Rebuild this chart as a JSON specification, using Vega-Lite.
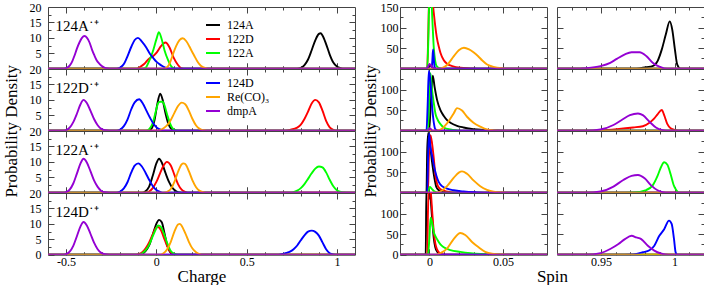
{
  "$schema": "https://vega.github.io/schema/vega-lite/v6.json",
  "padding": {"left": 1, "top": 0, "right": 2, "bottom": 0},
  "columns": 4,
  "spacing": {"row": 0, "column": 10},
  "bounds": "flush",
  "align": "each",
  "resolve": {"scale": {"color": "independent"}},
  "datasets": {
    "charge": [
      {"panel":1,"sp":"124A","x":-0.6,"y":0},{"panel":1,"sp":"124A","x":0.78,"y":0},{"panel":1,"sp":"124A","x":0.8,"y":0.3},{"panel":1,"sp":"124A","x":0.82,"y":1.2},{"panel":1,"sp":"124A","x":0.84,"y":3.0},{"panel":1,"sp":"124A","x":0.86,"y":6.0},{"panel":1,"sp":"124A","x":0.88,"y":9.2},{"panel":1,"sp":"124A","x":0.9,"y":11.3},{"panel":1,"sp":"124A","x":0.91,"y":11.5},{"panel":1,"sp":"124A","x":0.92,"y":10.8},{"panel":1,"sp":"124A","x":0.94,"y":8.0},{"panel":1,"sp":"124A","x":0.96,"y":4.6},{"panel":1,"sp":"124A","x":0.98,"y":2.0},{"panel":1,"sp":"124A","x":1.0,"y":0.7},{"panel":1,"sp":"124A","x":1.02,"y":0.2},{"panel":1,"sp":"124A","x":1.04,"y":0},{"panel":1,"sp":"124A","x":1.1,"y":0},
      {"panel":1,"sp":"122D","x":-0.6,"y":0},{"panel":1,"sp":"122D","x":-0.11,"y":0},{"panel":1,"sp":"122D","x":-0.093,"y":0.5},{"panel":1,"sp":"122D","x":-0.066,"y":1.6},{"panel":1,"sp":"122D","x":-0.042,"y":3.2},{"panel":1,"sp":"122D","x":-0.02,"y":4.0},{"panel":1,"sp":"122D","x":0.0025,"y":5.3},{"panel":1,"sp":"122D","x":0.0265,"y":7.4},{"panel":1,"sp":"122D","x":0.05,"y":8.5},{"panel":1,"sp":"122D","x":0.073,"y":6.9},{"panel":1,"sp":"122D","x":0.095,"y":3.7},{"panel":1,"sp":"122D","x":0.119,"y":1.3},{"panel":1,"sp":"122D","x":0.137,"y":0.2},{"panel":1,"sp":"122D","x":0.16,"y":0},{"panel":1,"sp":"122D","x":1.1,"y":0},
      {"panel":1,"sp":"122A","x":-0.6,"y":0},{"panel":1,"sp":"122A","x":-0.08,"y":0},{"panel":1,"sp":"122A","x":-0.06,"y":0.3},{"panel":1,"sp":"122A","x":-0.04,"y":2.5},{"panel":1,"sp":"122A","x":-0.02,"y":5.5},{"panel":1,"sp":"122A","x":0,"y":9.5},{"panel":1,"sp":"122A","x":0.014,"y":11.8},{"panel":1,"sp":"122A","x":0.03,"y":9.5},{"panel":1,"sp":"122A","x":0.045,"y":6.0},{"panel":1,"sp":"122A","x":0.065,"y":2.8},{"panel":1,"sp":"122A","x":0.08,"y":1.0},{"panel":1,"sp":"122A","x":0.095,"y":0.2},{"panel":1,"sp":"122A","x":0.11,"y":0},{"panel":1,"sp":"122A","x":1.1,"y":0},
      {"panel":1,"sp":"124D","x":-0.6,"y":0},{"panel":1,"sp":"124D","x":-0.22,"y":0},{"panel":1,"sp":"124D","x":-0.2,"y":0.4},{"panel":1,"sp":"124D","x":-0.18,"y":1.5},{"panel":1,"sp":"124D","x":-0.166,"y":3.2},{"panel":1,"sp":"124D","x":-0.138,"y":7.2},{"panel":1,"sp":"124D","x":-0.12,"y":9.3},{"panel":1,"sp":"124D","x":-0.102,"y":10.0},{"panel":1,"sp":"124D","x":-0.08,"y":8.8},{"panel":1,"sp":"124D","x":-0.056,"y":6.9},{"panel":1,"sp":"124D","x":-0.035,"y":4.8},{"panel":1,"sp":"124D","x":-0.02,"y":3.7},{"panel":1,"sp":"124D","x":0,"y":2.3},{"panel":1,"sp":"124D","x":0.017,"y":1.5},{"panel":1,"sp":"124D","x":0.035,"y":0.8},{"panel":1,"sp":"124D","x":0.054,"y":0.3},{"panel":1,"sp":"124D","x":0.07,"y":0},{"panel":1,"sp":"124D","x":1.1,"y":0},
      {"panel":1,"sp":"Re(CO)₃","x":-0.6,"y":0},{"panel":1,"sp":"Re(CO)₃","x":0.04,"y":0},{"panel":1,"sp":"Re(CO)₃","x":0.055,"y":0.3},{"panel":1,"sp":"Re(CO)₃","x":0.07,"y":1.3},{"panel":1,"sp":"Re(CO)₃","x":0.082,"y":3.0},{"panel":1,"sp":"Re(CO)₃","x":0.095,"y":5.2},{"panel":1,"sp":"Re(CO)₃","x":0.11,"y":7.4},{"panel":1,"sp":"Re(CO)₃","x":0.128,"y":9.3},{"panel":1,"sp":"Re(CO)₃","x":0.146,"y":9.9},{"panel":1,"sp":"Re(CO)₃","x":0.165,"y":9.0},{"panel":1,"sp":"Re(CO)₃","x":0.183,"y":7.2},{"panel":1,"sp":"Re(CO)₃","x":0.197,"y":5.6},{"panel":1,"sp":"Re(CO)₃","x":0.21,"y":4.2},{"panel":1,"sp":"Re(CO)₃","x":0.225,"y":2.6},{"panel":1,"sp":"Re(CO)₃","x":0.238,"y":1.5},{"panel":1,"sp":"Re(CO)₃","x":0.255,"y":0.6},{"panel":1,"sp":"Re(CO)₃","x":0.275,"y":0.2},{"panel":1,"sp":"Re(CO)₃","x":0.29,"y":0},{"panel":1,"sp":"Re(CO)₃","x":1.1,"y":0},
      {"panel":1,"sp":"dmpA","x":-0.6,"y":0},{"panel":1,"sp":"dmpA","x":-0.52,"y":0},{"panel":1,"sp":"dmpA","x":-0.5,"y":0.2},{"panel":1,"sp":"dmpA","x":-0.48,"y":1.0},{"panel":1,"sp":"dmpA","x":-0.465,"y":2.5},{"panel":1,"sp":"dmpA","x":-0.453,"y":4.3},{"panel":1,"sp":"dmpA","x":-0.44,"y":6.5},{"panel":1,"sp":"dmpA","x":-0.426,"y":8.5},{"panel":1,"sp":"dmpA","x":-0.412,"y":10.0},{"panel":1,"sp":"dmpA","x":-0.398,"y":10.6},{"panel":1,"sp":"dmpA","x":-0.384,"y":10.0},{"panel":1,"sp":"dmpA","x":-0.37,"y":8.5},{"panel":1,"sp":"dmpA","x":-0.357,"y":6.3},{"panel":1,"sp":"dmpA","x":-0.343,"y":4.3},{"panel":1,"sp":"dmpA","x":-0.33,"y":2.7},{"panel":1,"sp":"dmpA","x":-0.315,"y":1.6},{"panel":1,"sp":"dmpA","x":-0.3,"y":0.8},{"panel":1,"sp":"dmpA","x":-0.288,"y":0.4},{"panel":1,"sp":"dmpA","x":-0.27,"y":0.1},{"panel":1,"sp":"dmpA","x":-0.25,"y":0},{"panel":1,"sp":"dmpA","x":1.1,"y":0},

      {"panel":2,"sp":"124A","x":-0.6,"y":0},{"panel":2,"sp":"124A","x":-0.05,"y":0},{"panel":2,"sp":"124A","x":-0.03,"y":0.5},{"panel":2,"sp":"124A","x":-0.01,"y":3.5},{"panel":2,"sp":"124A","x":0.005,"y":8.5},{"panel":2,"sp":"124A","x":0.021,"y":12.0},{"panel":2,"sp":"124A","x":0.035,"y":10.0},{"panel":2,"sp":"124A","x":0.05,"y":5.8},{"panel":2,"sp":"124A","x":0.065,"y":2.5},{"panel":2,"sp":"124A","x":0.08,"y":0.8},{"panel":2,"sp":"124A","x":0.1,"y":0.2},{"panel":2,"sp":"124A","x":0.12,"y":0},{"panel":2,"sp":"124A","x":1.1,"y":0},
      {"panel":2,"sp":"122D","x":-0.6,"y":0},{"panel":2,"sp":"122D","x":0.7,"y":0},{"panel":2,"sp":"122D","x":0.74,"y":0.3},{"panel":2,"sp":"122D","x":0.78,"y":1.0},{"panel":2,"sp":"122D","x":0.8,"y":2.0},{"panel":2,"sp":"122D","x":0.82,"y":3.8},{"panel":2,"sp":"122D","x":0.84,"y":6.2},{"panel":2,"sp":"122D","x":0.86,"y":8.8},{"panel":2,"sp":"122D","x":0.88,"y":10.0},{"panel":2,"sp":"122D","x":0.9,"y":9.2},{"panel":2,"sp":"122D","x":0.92,"y":6.5},{"panel":2,"sp":"122D","x":0.94,"y":3.2},{"panel":2,"sp":"122D","x":0.96,"y":1.1},{"panel":2,"sp":"122D","x":0.98,"y":0.3},{"panel":2,"sp":"122D","x":1.0,"y":0},{"panel":2,"sp":"122D","x":1.1,"y":0},
      {"panel":2,"sp":"122A","x":-0.6,"y":0},{"panel":2,"sp":"122A","x":-0.06,"y":0},{"panel":2,"sp":"122A","x":-0.04,"y":0.5},{"panel":2,"sp":"122A","x":-0.02,"y":2.5},{"panel":2,"sp":"122A","x":0,"y":7.0},{"panel":2,"sp":"122A","x":0.01,"y":9.0},{"panel":2,"sp":"122A","x":0.02,"y":9.4},{"panel":2,"sp":"122A","x":0.035,"y":9.4},{"panel":2,"sp":"122A","x":0.045,"y":8.2},{"panel":2,"sp":"122A","x":0.06,"y":5.2},{"panel":2,"sp":"122A","x":0.075,"y":2.5},{"panel":2,"sp":"122A","x":0.09,"y":0.8},{"panel":2,"sp":"122A","x":0.11,"y":0.1},{"panel":2,"sp":"122A","x":0.13,"y":0},{"panel":2,"sp":"122A","x":1.1,"y":0},
      {"panel":2,"sp":"124D","x":-0.6,"y":0},{"panel":2,"sp":"124D","x":-0.22,"y":0},{"panel":2,"sp":"124D","x":-0.2,"y":0.4},{"panel":2,"sp":"124D","x":-0.18,"y":1.5},{"panel":2,"sp":"124D","x":-0.16,"y":3.6},{"panel":2,"sp":"124D","x":-0.14,"y":6.8},{"panel":2,"sp":"124D","x":-0.12,"y":9.2},{"panel":2,"sp":"124D","x":-0.095,"y":10.2},{"panel":2,"sp":"124D","x":-0.075,"y":8.8},{"panel":2,"sp":"124D","x":-0.055,"y":6.5},{"panel":2,"sp":"124D","x":-0.035,"y":4.2},{"panel":2,"sp":"124D","x":-0.015,"y":2.2},{"panel":2,"sp":"124D","x":0.005,"y":0.9},{"panel":2,"sp":"124D","x":0.025,"y":0.3},{"panel":2,"sp":"124D","x":0.045,"y":0},{"panel":2,"sp":"124D","x":1.1,"y":0},
      {"panel":2,"sp":"Re(CO)₃","x":-0.6,"y":0},{"panel":2,"sp":"Re(CO)₃","x":0,"y":0},{"panel":2,"sp":"Re(CO)₃","x":0.02,"y":0.2},{"panel":2,"sp":"Re(CO)₃","x":0.04,"y":0.8},{"panel":2,"sp":"Re(CO)₃","x":0.06,"y":1.8},{"panel":2,"sp":"Re(CO)₃","x":0.08,"y":3.5},{"panel":2,"sp":"Re(CO)₃","x":0.1,"y":5.8},{"panel":2,"sp":"Re(CO)₃","x":0.12,"y":8.0},{"panel":2,"sp":"Re(CO)₃","x":0.14,"y":9.1},{"panel":2,"sp":"Re(CO)₃","x":0.16,"y":8.6},{"panel":2,"sp":"Re(CO)₃","x":0.18,"y":6.5},{"panel":2,"sp":"Re(CO)₃","x":0.2,"y":3.8},{"panel":2,"sp":"Re(CO)₃","x":0.22,"y":1.7},{"panel":2,"sp":"Re(CO)₃","x":0.24,"y":0.6},{"panel":2,"sp":"Re(CO)₃","x":0.26,"y":0.15},{"panel":2,"sp":"Re(CO)₃","x":0.28,"y":0},{"panel":2,"sp":"Re(CO)₃","x":1.1,"y":0},
      {"panel":2,"sp":"dmpA","x":-0.6,"y":0},{"panel":2,"sp":"dmpA","x":-0.52,"y":0},{"panel":2,"sp":"dmpA","x":-0.5,"y":0.2},{"panel":2,"sp":"dmpA","x":-0.48,"y":1.0},{"panel":2,"sp":"dmpA","x":-0.46,"y":2.8},{"panel":2,"sp":"dmpA","x":-0.44,"y":5.5},{"panel":2,"sp":"dmpA","x":-0.42,"y":8.6},{"panel":2,"sp":"dmpA","x":-0.403,"y":10.0},{"panel":2,"sp":"dmpA","x":-0.385,"y":9.0},{"panel":2,"sp":"dmpA","x":-0.365,"y":6.5},{"panel":2,"sp":"dmpA","x":-0.345,"y":3.8},{"panel":2,"sp":"dmpA","x":-0.325,"y":1.8},{"panel":2,"sp":"dmpA","x":-0.305,"y":0.6},{"panel":2,"sp":"dmpA","x":-0.285,"y":0.15},{"panel":2,"sp":"dmpA","x":-0.26,"y":0},{"panel":2,"sp":"dmpA","x":1.1,"y":0},

      {"panel":3,"sp":"124A","x":-0.6,"y":0},{"panel":3,"sp":"124A","x":-0.08,"y":0},{"panel":3,"sp":"124A","x":-0.06,"y":0.5},{"panel":3,"sp":"124A","x":-0.04,"y":2.0},{"panel":3,"sp":"124A","x":-0.02,"y":5.5},{"panel":3,"sp":"124A","x":0,"y":9.5},{"panel":3,"sp":"124A","x":0.015,"y":11.0},{"panel":3,"sp":"124A","x":0.03,"y":9.8},{"panel":3,"sp":"124A","x":0.05,"y":6.5},{"panel":3,"sp":"124A","x":0.07,"y":3.5},{"panel":3,"sp":"124A","x":0.09,"y":1.5},{"panel":3,"sp":"124A","x":0.11,"y":0.5},{"panel":3,"sp":"124A","x":0.13,"y":0.1},{"panel":3,"sp":"124A","x":0.15,"y":0},{"panel":3,"sp":"124A","x":1.1,"y":0},
      {"panel":3,"sp":"122D","x":-0.6,"y":0},{"panel":3,"sp":"122D","x":-0.06,"y":0},{"panel":3,"sp":"122D","x":-0.04,"y":0.4},{"panel":3,"sp":"122D","x":-0.02,"y":1.5},{"panel":3,"sp":"122D","x":0,"y":3.5},{"panel":3,"sp":"122D","x":0.02,"y":6.2},{"panel":3,"sp":"122D","x":0.04,"y":8.8},{"panel":3,"sp":"122D","x":0.058,"y":10.0},{"panel":3,"sp":"122D","x":0.08,"y":8.8},{"panel":3,"sp":"122D","x":0.1,"y":5.8},{"panel":3,"sp":"122D","x":0.12,"y":2.8},{"panel":3,"sp":"122D","x":0.14,"y":1.0},{"panel":3,"sp":"122D","x":0.16,"y":0.3},{"panel":3,"sp":"122D","x":0.18,"y":0},{"panel":3,"sp":"122D","x":1.1,"y":0},
      {"panel":3,"sp":"122A","x":-0.6,"y":0},{"panel":3,"sp":"122A","x":0.74,"y":0},{"panel":3,"sp":"122A","x":0.76,"y":0.2},{"panel":3,"sp":"122A","x":0.78,"y":0.7},{"panel":3,"sp":"122A","x":0.8,"y":1.5},{"panel":3,"sp":"122A","x":0.82,"y":2.8},{"panel":3,"sp":"122A","x":0.84,"y":4.5},{"panel":3,"sp":"122A","x":0.86,"y":6.3},{"panel":3,"sp":"122A","x":0.88,"y":7.8},{"panel":3,"sp":"122A","x":0.9,"y":8.5},{"panel":3,"sp":"122A","x":0.92,"y":8.2},{"panel":3,"sp":"122A","x":0.94,"y":6.6},{"panel":3,"sp":"122A","x":0.96,"y":4.2},{"panel":3,"sp":"122A","x":0.98,"y":2.1},{"panel":3,"sp":"122A","x":1.0,"y":0.8},{"panel":3,"sp":"122A","x":1.02,"y":0.3},{"panel":3,"sp":"122A","x":1.04,"y":0.1},{"panel":3,"sp":"122A","x":1.06,"y":0},{"panel":3,"sp":"122A","x":1.1,"y":0},
      {"panel":3,"sp":"124D","x":-0.6,"y":0},{"panel":3,"sp":"124D","x":-0.22,"y":0},{"panel":3,"sp":"124D","x":-0.2,"y":0.4},{"panel":3,"sp":"124D","x":-0.18,"y":1.4},{"panel":3,"sp":"124D","x":-0.16,"y":3.4},{"panel":3,"sp":"124D","x":-0.14,"y":6.4},{"panel":3,"sp":"124D","x":-0.12,"y":8.8},{"panel":3,"sp":"124D","x":-0.1,"y":9.5},{"panel":3,"sp":"124D","x":-0.08,"y":8.5},{"panel":3,"sp":"124D","x":-0.06,"y":6.5},{"panel":3,"sp":"124D","x":-0.04,"y":4.2},{"panel":3,"sp":"124D","x":-0.02,"y":2.2},{"panel":3,"sp":"124D","x":0,"y":0.9},{"panel":3,"sp":"124D","x":0.02,"y":0.3},{"panel":3,"sp":"124D","x":0.04,"y":0},{"panel":3,"sp":"124D","x":1.1,"y":0},
      {"panel":3,"sp":"Re(CO)₃","x":-0.6,"y":0},{"panel":3,"sp":"Re(CO)₃","x":0.04,"y":0},{"panel":3,"sp":"Re(CO)₃","x":0.06,"y":0.3},{"panel":3,"sp":"Re(CO)₃","x":0.08,"y":1.2},{"panel":3,"sp":"Re(CO)₃","x":0.1,"y":3.5},{"panel":3,"sp":"Re(CO)₃","x":0.12,"y":6.8},{"panel":3,"sp":"Re(CO)₃","x":0.14,"y":9.2},{"panel":3,"sp":"Re(CO)₃","x":0.15,"y":9.5},{"panel":3,"sp":"Re(CO)₃","x":0.16,"y":9.3},{"panel":3,"sp":"Re(CO)₃","x":0.18,"y":7.0},{"panel":3,"sp":"Re(CO)₃","x":0.2,"y":4.0},{"panel":3,"sp":"Re(CO)₃","x":0.22,"y":1.8},{"panel":3,"sp":"Re(CO)₃","x":0.24,"y":0.6},{"panel":3,"sp":"Re(CO)₃","x":0.26,"y":0.2},{"panel":3,"sp":"Re(CO)₃","x":0.28,"y":0},{"panel":3,"sp":"Re(CO)₃","x":1.1,"y":0},
      {"panel":3,"sp":"dmpA","x":-0.6,"y":0},{"panel":3,"sp":"dmpA","x":-0.52,"y":0},{"panel":3,"sp":"dmpA","x":-0.5,"y":0.2},{"panel":3,"sp":"dmpA","x":-0.48,"y":1.0},{"panel":3,"sp":"dmpA","x":-0.46,"y":3.0},{"panel":3,"sp":"dmpA","x":-0.44,"y":6.2},{"panel":3,"sp":"dmpA","x":-0.42,"y":9.5},{"panel":3,"sp":"dmpA","x":-0.403,"y":11.0},{"panel":3,"sp":"dmpA","x":-0.385,"y":9.8},{"panel":3,"sp":"dmpA","x":-0.365,"y":7.0},{"panel":3,"sp":"dmpA","x":-0.345,"y":4.0},{"panel":3,"sp":"dmpA","x":-0.325,"y":1.9},{"panel":3,"sp":"dmpA","x":-0.305,"y":0.6},{"panel":3,"sp":"dmpA","x":-0.285,"y":0.15},{"panel":3,"sp":"dmpA","x":-0.26,"y":0},{"panel":3,"sp":"dmpA","x":1.1,"y":0},

      {"panel":4,"sp":"124A","x":-0.6,"y":0},{"panel":4,"sp":"124A","x":-0.11,"y":0},{"panel":4,"sp":"124A","x":-0.08,"y":0.3},{"panel":4,"sp":"124A","x":-0.06,"y":1.2},{"panel":4,"sp":"124A","x":-0.04,"y":3.0},{"panel":4,"sp":"124A","x":-0.02,"y":6.5},{"panel":4,"sp":"124A","x":0,"y":10.0},{"panel":4,"sp":"124A","x":0.015,"y":11.3},{"panel":4,"sp":"124A","x":0.03,"y":10.5},{"panel":4,"sp":"124A","x":0.045,"y":7.0},{"panel":4,"sp":"124A","x":0.06,"y":3.0},{"panel":4,"sp":"124A","x":0.075,"y":1.0},{"panel":4,"sp":"124A","x":0.09,"y":0.2},{"panel":4,"sp":"124A","x":0.11,"y":0},{"panel":4,"sp":"124A","x":1.1,"y":0},
      {"panel":4,"sp":"122D","x":-0.6,"y":0},{"panel":4,"sp":"122D","x":-0.12,"y":0},{"panel":4,"sp":"122D","x":-0.1,"y":0.2},{"panel":4,"sp":"122D","x":-0.08,"y":0.7},{"panel":4,"sp":"122D","x":-0.06,"y":2.0},{"panel":4,"sp":"122D","x":-0.04,"y":4.0},{"panel":4,"sp":"122D","x":-0.02,"y":6.6},{"panel":4,"sp":"122D","x":0,"y":8.8},{"panel":4,"sp":"122D","x":0.01,"y":9.0},{"panel":4,"sp":"122D","x":0.025,"y":8.0},{"panel":4,"sp":"122D","x":0.04,"y":5.8},{"panel":4,"sp":"122D","x":0.06,"y":2.8},{"panel":4,"sp":"122D","x":0.08,"y":0.8},{"panel":4,"sp":"122D","x":0.1,"y":0.2},{"panel":4,"sp":"122D","x":0.12,"y":0},{"panel":4,"sp":"122D","x":1.1,"y":0},
      {"panel":4,"sp":"122A","x":-0.6,"y":0},{"panel":4,"sp":"122A","x":-0.1,"y":0},{"panel":4,"sp":"122A","x":-0.08,"y":0.4},{"panel":4,"sp":"122A","x":-0.06,"y":1.4},{"panel":4,"sp":"122A","x":-0.04,"y":3.2},{"panel":4,"sp":"122A","x":-0.02,"y":6.0},{"panel":4,"sp":"122A","x":0,"y":8.6},{"panel":4,"sp":"122A","x":0.01,"y":9.5},{"panel":4,"sp":"122A","x":0.025,"y":9.0},{"panel":4,"sp":"122A","x":0.04,"y":7.2},{"panel":4,"sp":"122A","x":0.06,"y":3.8},{"panel":4,"sp":"122A","x":0.08,"y":1.2},{"panel":4,"sp":"122A","x":0.1,"y":0.3},{"panel":4,"sp":"122A","x":0.12,"y":0},{"panel":4,"sp":"122A","x":1.1,"y":0},
      {"panel":4,"sp":"124D","x":-0.6,"y":0},{"panel":4,"sp":"124D","x":0.66,"y":0},{"panel":4,"sp":"124D","x":0.7,"y":0.3},{"panel":4,"sp":"124D","x":0.72,"y":0.6},{"panel":4,"sp":"124D","x":0.74,"y":1.0},{"panel":4,"sp":"124D","x":0.76,"y":1.8},{"panel":4,"sp":"124D","x":0.78,"y":3.0},{"panel":4,"sp":"124D","x":0.8,"y":4.7},{"panel":4,"sp":"124D","x":0.82,"y":6.3},{"panel":4,"sp":"124D","x":0.84,"y":7.5},{"panel":4,"sp":"124D","x":0.86,"y":7.8},{"panel":4,"sp":"124D","x":0.88,"y":7.4},{"panel":4,"sp":"124D","x":0.9,"y":6.2},{"panel":4,"sp":"124D","x":0.92,"y":4.0},{"panel":4,"sp":"124D","x":0.94,"y":1.8},{"panel":4,"sp":"124D","x":0.96,"y":0.5},{"panel":4,"sp":"124D","x":0.98,"y":0.1},{"panel":4,"sp":"124D","x":1.0,"y":0},{"panel":4,"sp":"124D","x":1.1,"y":0},
      {"panel":4,"sp":"Re(CO)₃","x":-0.6,"y":0},{"panel":4,"sp":"Re(CO)₃","x":0.02,"y":0},{"panel":4,"sp":"Re(CO)₃","x":0.04,"y":0.5},{"panel":4,"sp":"Re(CO)₃","x":0.06,"y":1.8},{"panel":4,"sp":"Re(CO)₃","x":0.08,"y":4.2},{"panel":4,"sp":"Re(CO)₃","x":0.1,"y":7.5},{"panel":4,"sp":"Re(CO)₃","x":0.12,"y":9.8},{"panel":4,"sp":"Re(CO)₃","x":0.13,"y":10.0},{"panel":4,"sp":"Re(CO)₃","x":0.14,"y":9.4},{"panel":4,"sp":"Re(CO)₃","x":0.16,"y":7.0},{"panel":4,"sp":"Re(CO)₃","x":0.18,"y":4.2},{"panel":4,"sp":"Re(CO)₃","x":0.2,"y":2.0},{"panel":4,"sp":"Re(CO)₃","x":0.22,"y":0.8},{"panel":4,"sp":"Re(CO)₃","x":0.24,"y":0.2},{"panel":4,"sp":"Re(CO)₃","x":0.26,"y":0},{"panel":4,"sp":"Re(CO)₃","x":1.1,"y":0},
      {"panel":4,"sp":"dmpA","x":-0.6,"y":0},{"panel":4,"sp":"dmpA","x":-0.52,"y":0},{"panel":4,"sp":"dmpA","x":-0.5,"y":0.2},{"panel":4,"sp":"dmpA","x":-0.48,"y":1.0},{"panel":4,"sp":"dmpA","x":-0.46,"y":2.9},{"panel":4,"sp":"dmpA","x":-0.44,"y":6.0},{"panel":4,"sp":"dmpA","x":-0.42,"y":9.2},{"panel":4,"sp":"dmpA","x":-0.403,"y":10.6},{"panel":4,"sp":"dmpA","x":-0.385,"y":9.5},{"panel":4,"sp":"dmpA","x":-0.365,"y":6.8},{"panel":4,"sp":"dmpA","x":-0.345,"y":3.9},{"panel":4,"sp":"dmpA","x":-0.325,"y":1.8},{"panel":4,"sp":"dmpA","x":-0.305,"y":0.6},{"panel":4,"sp":"dmpA","x":-0.285,"y":0.15},{"panel":4,"sp":"dmpA","x":-0.26,"y":0},{"panel":4,"sp":"dmpA","x":1.1,"y":0}
    ],
    "spin": [
      {"panel":1,"sp":"124A","x":-0.02,"y":0},{"panel":1,"sp":"124A","x":-0.0015,"y":0},{"panel":1,"sp":"124A","x":-0.0005,"y":6},{"panel":1,"sp":"124A","x":0.0005,"y":9},{"panel":1,"sp":"124A","x":0.0015,"y":5},{"panel":1,"sp":"124A","x":0.003,"y":1},{"panel":1,"sp":"124A","x":0.004,"y":0},{"panel":1,"sp":"124A","x":0.08,"y":0},{"panel":1,"sp":"124A","x":0.92,"y":0},{"panel":1,"sp":"124A","x":0.974,"y":0},{"panel":1,"sp":"124A","x":0.9807,"y":4},{"panel":1,"sp":"124A","x":0.985,"y":6.5},{"panel":1,"sp":"124A","x":0.9884,"y":18.5},{"panel":1,"sp":"124A","x":0.9913,"y":47},{"panel":1,"sp":"124A","x":0.994,"y":83},{"panel":1,"sp":"124A","x":0.9967,"y":115},{"panel":1,"sp":"124A","x":0.9984,"y":95},{"panel":1,"sp":"124A","x":1.0002,"y":47},{"panel":1,"sp":"124A","x":1.0018,"y":10},{"panel":1,"sp":"124A","x":1.004,"y":0},{"panel":1,"sp":"124A","x":1.02,"y":0},
      {"panel":1,"sp":"122D","x":-0.02,"y":0},{"panel":1,"sp":"122D","x":-0.0015,"y":0},{"panel":1,"sp":"122D","x":-0.0008,"y":80},{"panel":1,"sp":"122D","x":0,"y":190},{"panel":1,"sp":"122D","x":0.002,"y":170},{"panel":1,"sp":"122D","x":0.003,"y":135},{"panel":1,"sp":"122D","x":0.004,"y":103},{"panel":1,"sp":"122D","x":0.005,"y":77},{"panel":1,"sp":"122D","x":0.0065,"y":52},{"panel":1,"sp":"122D","x":0.0075,"y":39},{"panel":1,"sp":"122D","x":0.0097,"y":21},{"panel":1,"sp":"122D","x":0.012,"y":12},{"panel":1,"sp":"122D","x":0.0155,"y":6.5},{"panel":1,"sp":"122D","x":0.021,"y":2.4},{"panel":1,"sp":"122D","x":0.028,"y":1},{"panel":1,"sp":"122D","x":0.035,"y":0},{"panel":1,"sp":"122D","x":0.08,"y":0},{"panel":1,"sp":"122D","x":0.92,"y":0},{"panel":1,"sp":"122D","x":1.02,"y":0},
      {"panel":1,"sp":"122A","x":-0.02,"y":0},{"panel":1,"sp":"122A","x":-0.0015,"y":0},{"panel":1,"sp":"122A","x":-0.0008,"y":60},{"panel":1,"sp":"122A","x":0,"y":180},{"panel":1,"sp":"122A","x":0.001,"y":190},{"panel":1,"sp":"122A","x":0.002,"y":120},{"panel":1,"sp":"122A","x":0.003,"y":50},{"panel":1,"sp":"122A","x":0.004,"y":18},{"panel":1,"sp":"122A","x":0.005,"y":6},{"panel":1,"sp":"122A","x":0.007,"y":1.5},{"panel":1,"sp":"122A","x":0.01,"y":0},{"panel":1,"sp":"122A","x":0.08,"y":0},{"panel":1,"sp":"122A","x":0.92,"y":0},{"panel":1,"sp":"122A","x":1.02,"y":0},
      {"panel":1,"sp":"124D","x":-0.02,"y":0},{"panel":1,"sp":"124D","x":0.0015,"y":0},{"panel":1,"sp":"124D","x":0.002,"y":20},{"panel":1,"sp":"124D","x":0.0025,"y":47},{"panel":1,"sp":"124D","x":0.003,"y":25},{"panel":1,"sp":"124D","x":0.0035,"y":5},{"panel":1,"sp":"124D","x":0.0045,"y":0},{"panel":1,"sp":"124D","x":0.08,"y":0},{"panel":1,"sp":"124D","x":0.92,"y":0},{"panel":1,"sp":"124D","x":1.02,"y":0},
      {"panel":1,"sp":"Re(CO)₃","x":-0.02,"y":0},{"panel":1,"sp":"Re(CO)₃","x":0.004,"y":0},{"panel":1,"sp":"Re(CO)₃","x":0.008,"y":1},{"panel":1,"sp":"Re(CO)₃","x":0.012,"y":9},{"panel":1,"sp":"Re(CO)₃","x":0.0165,"y":30},{"panel":1,"sp":"Re(CO)₃","x":0.02,"y":45},{"panel":1,"sp":"Re(CO)₃","x":0.0235,"y":51},{"panel":1,"sp":"Re(CO)₃","x":0.027,"y":47},{"panel":1,"sp":"Re(CO)₃","x":0.03,"y":40},{"panel":1,"sp":"Re(CO)₃","x":0.033,"y":31},{"panel":1,"sp":"Re(CO)₃","x":0.036,"y":20},{"panel":1,"sp":"Re(CO)₃","x":0.039,"y":11},{"panel":1,"sp":"Re(CO)₃","x":0.043,"y":5},{"panel":1,"sp":"Re(CO)₃","x":0.046,"y":2.4},{"panel":1,"sp":"Re(CO)₃","x":0.05,"y":0.8},{"panel":1,"sp":"Re(CO)₃","x":0.056,"y":0},{"panel":1,"sp":"Re(CO)₃","x":0.08,"y":0},{"panel":1,"sp":"Re(CO)₃","x":0.92,"y":0},{"panel":1,"sp":"Re(CO)₃","x":1.02,"y":0},
      {"panel":1,"sp":"dmpA","x":-0.02,"y":0},{"panel":1,"sp":"dmpA","x":-0.002,"y":0},{"panel":1,"sp":"dmpA","x":-0.001,"y":5},{"panel":1,"sp":"dmpA","x":0,"y":11},{"panel":1,"sp":"dmpA","x":0.001,"y":9},{"panel":1,"sp":"dmpA","x":0.002,"y":4},{"panel":1,"sp":"dmpA","x":0.003,"y":1},{"panel":1,"sp":"dmpA","x":0.004,"y":0},{"panel":1,"sp":"dmpA","x":0.08,"y":0},{"panel":1,"sp":"dmpA","x":0.92,"y":0},{"panel":1,"sp":"dmpA","x":0.935,"y":0},{"panel":1,"sp":"dmpA","x":0.9384,"y":1},{"panel":1,"sp":"dmpA","x":0.9496,"y":6.5},{"panel":1,"sp":"dmpA","x":0.9562,"y":14.5},{"panel":1,"sp":"dmpA","x":0.9607,"y":24},{"panel":1,"sp":"dmpA","x":0.9662,"y":35},{"panel":1,"sp":"dmpA","x":0.9707,"y":40},{"panel":1,"sp":"dmpA","x":0.9762,"y":40},{"panel":1,"sp":"dmpA","x":0.9807,"y":31},{"panel":1,"sp":"dmpA","x":0.9851,"y":14.5},{"panel":1,"sp":"dmpA","x":0.9896,"y":5},{"panel":1,"sp":"dmpA","x":0.9929,"y":1},{"panel":1,"sp":"dmpA","x":0.997,"y":0},{"panel":1,"sp":"dmpA","x":1.02,"y":0},

      {"panel":2,"sp":"124A","x":-0.02,"y":0},{"panel":2,"sp":"124A","x":-0.0002,"y":0},{"panel":2,"sp":"124A","x":0.001,"y":70},{"panel":2,"sp":"124A","x":0.0023,"y":134},{"panel":2,"sp":"124A","x":0.0035,"y":107},{"panel":2,"sp":"124A","x":0.0052,"y":75},{"panel":2,"sp":"124A","x":0.0075,"y":50},{"panel":2,"sp":"124A","x":0.0098,"y":36},{"panel":2,"sp":"124A","x":0.012,"y":26},{"panel":2,"sp":"124A","x":0.0143,"y":19.5},{"panel":2,"sp":"124A","x":0.0188,"y":12},{"panel":2,"sp":"124A","x":0.0233,"y":8},{"panel":2,"sp":"124A","x":0.0278,"y":5},{"panel":2,"sp":"124A","x":0.0324,"y":3},{"panel":2,"sp":"124A","x":0.038,"y":1.5},{"panel":2,"sp":"124A","x":0.046,"y":0.5},{"panel":2,"sp":"124A","x":0.055,"y":0},{"panel":2,"sp":"124A","x":0.08,"y":0},{"panel":2,"sp":"124A","x":0.92,"y":0},{"panel":2,"sp":"124A","x":1.02,"y":0},
      {"panel":2,"sp":"122D","x":-0.02,"y":0},{"panel":2,"sp":"122D","x":0.08,"y":0},{"panel":2,"sp":"122D","x":0.92,"y":0},{"panel":2,"sp":"122D","x":0.94,"y":0},{"panel":2,"sp":"122D","x":0.9496,"y":1},{"panel":2,"sp":"122D","x":0.9607,"y":4},{"panel":2,"sp":"122D","x":0.9718,"y":8},{"panel":2,"sp":"122D","x":0.9784,"y":11},{"panel":2,"sp":"122D","x":0.9829,"y":19.5},{"panel":2,"sp":"122D","x":0.9862,"y":30},{"panel":2,"sp":"122D","x":0.9884,"y":40},{"panel":2,"sp":"122D","x":0.9913,"y":50.5},{"panel":2,"sp":"122D","x":0.9929,"y":38},{"panel":2,"sp":"122D","x":0.9951,"y":16},{"panel":2,"sp":"122D","x":0.9973,"y":6},{"panel":2,"sp":"122D","x":1.0007,"y":1.6},{"panel":2,"sp":"122D","x":1.004,"y":0},{"panel":2,"sp":"122D","x":1.02,"y":0},
      {"panel":2,"sp":"122A","x":-0.02,"y":0},{"panel":2,"sp":"122A","x":-0.001,"y":0},{"panel":2,"sp":"122A","x":-0.0004,"y":50},{"panel":2,"sp":"122A","x":0.0007,"y":140},{"panel":2,"sp":"122A","x":0.0018,"y":99},{"panel":2,"sp":"122A","x":0.003,"y":67},{"panel":2,"sp":"122A","x":0.0041,"y":42},{"panel":2,"sp":"122A","x":0.0052,"y":30},{"panel":2,"sp":"122A","x":0.0075,"y":16},{"panel":2,"sp":"122A","x":0.0098,"y":8},{"panel":2,"sp":"122A","x":0.0143,"y":3},{"panel":2,"sp":"122A","x":0.0188,"y":1},{"panel":2,"sp":"122A","x":0.025,"y":0},{"panel":2,"sp":"122A","x":0.08,"y":0},{"panel":2,"sp":"122A","x":0.92,"y":0},{"panel":2,"sp":"122A","x":1.02,"y":0},
      {"panel":2,"sp":"124D","x":-0.02,"y":0},{"panel":2,"sp":"124D","x":-0.002,"y":0},{"panel":2,"sp":"124D","x":-0.0012,"y":60},{"panel":2,"sp":"124D","x":-0.0004,"y":145},{"panel":2,"sp":"124D","x":0.0007,"y":120},{"panel":2,"sp":"124D","x":0.0018,"y":60},{"panel":2,"sp":"124D","x":0.003,"y":20},{"panel":2,"sp":"124D","x":0.004,"y":4},{"panel":2,"sp":"124D","x":0.006,"y":0},{"panel":2,"sp":"124D","x":0.08,"y":0},{"panel":2,"sp":"124D","x":0.92,"y":0},{"panel":2,"sp":"124D","x":1.02,"y":0},
      {"panel":2,"sp":"Re(CO)₃","x":-0.02,"y":0},{"panel":2,"sp":"Re(CO)₃","x":0.004,"y":0},{"panel":2,"sp":"Re(CO)₃","x":0.0075,"y":3},{"panel":2,"sp":"Re(CO)₃","x":0.012,"y":18},{"panel":2,"sp":"Re(CO)₃","x":0.0165,"y":42},{"panel":2,"sp":"Re(CO)₃","x":0.0188,"y":55},{"panel":2,"sp":"Re(CO)₃","x":0.0222,"y":49},{"panel":2,"sp":"Re(CO)₃","x":0.0256,"y":34},{"panel":2,"sp":"Re(CO)₃","x":0.03,"y":19.5},{"panel":2,"sp":"Re(CO)₃","x":0.0346,"y":10},{"panel":2,"sp":"Re(CO)₃","x":0.0392,"y":3},{"panel":2,"sp":"Re(CO)₃","x":0.0437,"y":1},{"panel":2,"sp":"Re(CO)₃","x":0.05,"y":0},{"panel":2,"sp":"Re(CO)₃","x":0.08,"y":0},{"panel":2,"sp":"Re(CO)₃","x":0.92,"y":0},{"panel":2,"sp":"Re(CO)₃","x":1.02,"y":0},
      {"panel":2,"sp":"dmpA","x":-0.02,"y":0},{"panel":2,"sp":"dmpA","x":-0.001,"y":0},{"panel":2,"sp":"dmpA","x":0,"y":6},{"panel":2,"sp":"dmpA","x":0.001,"y":4},{"panel":2,"sp":"dmpA","x":0.002,"y":0},{"panel":2,"sp":"dmpA","x":0.08,"y":0},{"panel":2,"sp":"dmpA","x":0.92,"y":0},{"panel":2,"sp":"dmpA","x":0.94,"y":0},{"panel":2,"sp":"dmpA","x":0.9496,"y":3},{"panel":2,"sp":"dmpA","x":0.9584,"y":14},{"panel":2,"sp":"dmpA","x":0.964,"y":26},{"panel":2,"sp":"dmpA","x":0.9696,"y":38},{"panel":2,"sp":"dmpA","x":0.9751,"y":42},{"panel":2,"sp":"dmpA","x":0.9784,"y":38},{"panel":2,"sp":"dmpA","x":0.9829,"y":22},{"panel":2,"sp":"dmpA","x":0.9873,"y":8},{"panel":2,"sp":"dmpA","x":0.9918,"y":1.6},{"panel":2,"sp":"dmpA","x":0.996,"y":0},{"panel":2,"sp":"dmpA","x":1.02,"y":0},

      {"panel":3,"sp":"124A","x":-0.02,"y":0},{"panel":3,"sp":"124A","x":-0.002,"y":0},{"panel":3,"sp":"124A","x":-0.0015,"y":100},{"panel":3,"sp":"124A","x":-0.0008,"y":145},{"panel":3,"sp":"124A","x":0,"y":130},{"panel":3,"sp":"124A","x":0.0018,"y":75},{"panel":3,"sp":"124A","x":0.0035,"y":34},{"panel":3,"sp":"124A","x":0.0047,"y":14},{"panel":3,"sp":"124A","x":0.0064,"y":6},{"panel":3,"sp":"124A","x":0.0086,"y":2},{"panel":3,"sp":"124A","x":0.012,"y":0},{"panel":3,"sp":"124A","x":0.08,"y":0},{"panel":3,"sp":"124A","x":0.92,"y":0},{"panel":3,"sp":"124A","x":1.02,"y":0},
      {"panel":3,"sp":"122D","x":-0.02,"y":0},{"panel":3,"sp":"122D","x":-0.001,"y":0},{"panel":3,"sp":"122D","x":-0.0004,"y":80},{"panel":3,"sp":"122D","x":0.0007,"y":140},{"panel":3,"sp":"122D","x":0.0018,"y":120},{"panel":3,"sp":"122D","x":0.003,"y":83},{"panel":3,"sp":"122D","x":0.0041,"y":42},{"panel":3,"sp":"122D","x":0.0052,"y":22},{"panel":3,"sp":"122D","x":0.007,"y":10},{"panel":3,"sp":"122D","x":0.0098,"y":5},{"panel":3,"sp":"122D","x":0.0143,"y":1.6},{"panel":3,"sp":"122D","x":0.02,"y":0},{"panel":3,"sp":"122D","x":0.08,"y":0},{"panel":3,"sp":"122D","x":0.92,"y":0},{"panel":3,"sp":"122D","x":1.02,"y":0},
      {"panel":3,"sp":"122A","x":-0.02,"y":0},{"panel":3,"sp":"122A","x":-0.0015,"y":0},{"panel":3,"sp":"122A","x":-0.0005,"y":8},{"panel":3,"sp":"122A","x":0.0003,"y":14},{"panel":3,"sp":"122A","x":0.0015,"y":10},{"panel":3,"sp":"122A","x":0.003,"y":4},{"panel":3,"sp":"122A","x":0.005,"y":1},{"panel":3,"sp":"122A","x":0.007,"y":0},{"panel":3,"sp":"122A","x":0.08,"y":0},{"panel":3,"sp":"122A","x":0.92,"y":0},{"panel":3,"sp":"122A","x":0.96,"y":0},{"panel":3,"sp":"122A","x":0.9718,"y":0.5},{"panel":3,"sp":"122A","x":0.9807,"y":6.6},{"panel":3,"sp":"122A","x":0.9851,"y":18},{"panel":3,"sp":"122A","x":0.9884,"y":41},{"panel":3,"sp":"122A","x":0.9907,"y":62},{"panel":3,"sp":"122A","x":0.9929,"y":74},{"panel":3,"sp":"122A","x":0.9951,"y":68},{"panel":3,"sp":"122A","x":0.9973,"y":45},{"panel":3,"sp":"122A","x":0.9996,"y":16.5},{"panel":3,"sp":"122A","x":1.0011,"y":6.6},{"panel":3,"sp":"122A","x":1.0029,"y":0},{"panel":3,"sp":"122A","x":1.02,"y":0},
      {"panel":3,"sp":"124D","x":-0.02,"y":0},{"panel":3,"sp":"124D","x":-0.0015,"y":0},{"panel":3,"sp":"124D","x":-0.0008,"y":100},{"panel":3,"sp":"124D","x":-0.0002,"y":144},{"panel":3,"sp":"124D","x":0.0007,"y":110},{"panel":3,"sp":"124D","x":0.0018,"y":91},{"panel":3,"sp":"124D","x":0.003,"y":67},{"panel":3,"sp":"124D","x":0.0047,"y":42},{"panel":3,"sp":"124D","x":0.0064,"y":26},{"panel":3,"sp":"124D","x":0.0086,"y":16},{"panel":3,"sp":"124D","x":0.012,"y":10},{"panel":3,"sp":"124D","x":0.0165,"y":6},{"panel":3,"sp":"124D","x":0.0233,"y":3},{"panel":3,"sp":"124D","x":0.032,"y":1},{"panel":3,"sp":"124D","x":0.04,"y":0},{"panel":3,"sp":"124D","x":0.08,"y":0},{"panel":3,"sp":"124D","x":0.92,"y":0},{"panel":3,"sp":"124D","x":1.02,"y":0},
      {"panel":3,"sp":"Re(CO)₃","x":-0.02,"y":0},{"panel":3,"sp":"Re(CO)₃","x":0.004,"y":0},{"panel":3,"sp":"Re(CO)₃","x":0.0075,"y":3},{"panel":3,"sp":"Re(CO)₃","x":0.012,"y":16},{"panel":3,"sp":"Re(CO)₃","x":0.0165,"y":36},{"panel":3,"sp":"Re(CO)₃","x":0.02,"y":49},{"panel":3,"sp":"Re(CO)₃","x":0.0222,"y":52},{"panel":3,"sp":"Re(CO)₃","x":0.0256,"y":46},{"panel":3,"sp":"Re(CO)₃","x":0.03,"y":30},{"panel":3,"sp":"Re(CO)₃","x":0.0346,"y":16},{"panel":3,"sp":"Re(CO)₃","x":0.0392,"y":7},{"panel":3,"sp":"Re(CO)₃","x":0.0437,"y":2.4},{"panel":3,"sp":"Re(CO)₃","x":0.05,"y":0.5},{"panel":3,"sp":"Re(CO)₃","x":0.056,"y":0},{"panel":3,"sp":"Re(CO)₃","x":0.08,"y":0},{"panel":3,"sp":"Re(CO)₃","x":0.92,"y":0},{"panel":3,"sp":"Re(CO)₃","x":1.02,"y":0},
      {"panel":3,"sp":"dmpA","x":-0.02,"y":0},{"panel":3,"sp":"dmpA","x":0.08,"y":0},{"panel":3,"sp":"dmpA","x":0.92,"y":0},{"panel":3,"sp":"dmpA","x":0.94,"y":0},{"panel":3,"sp":"dmpA","x":0.9496,"y":3},{"panel":3,"sp":"dmpA","x":0.9584,"y":15},{"panel":3,"sp":"dmpA","x":0.9651,"y":31},{"panel":3,"sp":"dmpA","x":0.9707,"y":41},{"panel":3,"sp":"dmpA","x":0.9751,"y":43},{"panel":3,"sp":"dmpA","x":0.9796,"y":35},{"panel":3,"sp":"dmpA","x":0.984,"y":18},{"panel":3,"sp":"dmpA","x":0.9884,"y":6},{"panel":3,"sp":"dmpA","x":0.9918,"y":1.6},{"panel":3,"sp":"dmpA","x":0.996,"y":0},{"panel":3,"sp":"dmpA","x":1.02,"y":0},

      {"panel":4,"sp":"124A","x":-0.02,"y":0},{"panel":4,"sp":"124A","x":-0.0025,"y":0},{"panel":4,"sp":"124A","x":-0.002,"y":170},{"panel":4,"sp":"124A","x":0,"y":170},{"panel":4,"sp":"124A","x":0.001,"y":130},{"panel":4,"sp":"124A","x":0.002,"y":80},{"panel":4,"sp":"124A","x":0.003,"y":40},{"panel":4,"sp":"124A","x":0.004,"y":18},{"panel":4,"sp":"124A","x":0.0052,"y":8},{"panel":4,"sp":"124A","x":0.007,"y":2},{"panel":4,"sp":"124A","x":0.009,"y":0},{"panel":4,"sp":"124A","x":0.08,"y":0},{"panel":4,"sp":"124A","x":0.92,"y":0},{"panel":4,"sp":"124A","x":1.02,"y":0},
      {"panel":4,"sp":"122D","x":-0.02,"y":0},{"panel":4,"sp":"122D","x":-0.0015,"y":0},{"panel":4,"sp":"122D","x":-0.001,"y":100},{"panel":4,"sp":"122D","x":-0.0003,"y":175},{"panel":4,"sp":"122D","x":0.001,"y":150},{"panel":4,"sp":"122D","x":0.002,"y":100},{"panel":4,"sp":"122D","x":0.003,"y":55},{"panel":4,"sp":"122D","x":0.004,"y":28},{"panel":4,"sp":"122D","x":0.0052,"y":13},{"panel":4,"sp":"122D","x":0.007,"y":4},{"panel":4,"sp":"122D","x":0.009,"y":1},{"panel":4,"sp":"122D","x":0.012,"y":0},{"panel":4,"sp":"122D","x":0.08,"y":0},{"panel":4,"sp":"122D","x":0.92,"y":0},{"panel":4,"sp":"122D","x":1.02,"y":0},
      {"panel":4,"sp":"122A","x":-0.02,"y":0},{"panel":4,"sp":"122A","x":-0.001,"y":0},{"panel":4,"sp":"122A","x":0,"y":40},{"panel":4,"sp":"122A","x":0.0008,"y":90},{"panel":4,"sp":"122A","x":0.002,"y":75},{"panel":4,"sp":"122A","x":0.003,"y":55},{"panel":4,"sp":"122A","x":0.0041,"y":45},{"panel":4,"sp":"122A","x":0.0052,"y":38},{"panel":4,"sp":"122A","x":0.0075,"y":25},{"panel":4,"sp":"122A","x":0.0098,"y":18},{"panel":4,"sp":"122A","x":0.0143,"y":11},{"panel":4,"sp":"122A","x":0.021,"y":7},{"panel":4,"sp":"122A","x":0.028,"y":4},{"panel":4,"sp":"122A","x":0.035,"y":2},{"panel":4,"sp":"122A","x":0.045,"y":0.5},{"panel":4,"sp":"122A","x":0.055,"y":0},{"panel":4,"sp":"122A","x":0.08,"y":0},{"panel":4,"sp":"122A","x":0.92,"y":0},{"panel":4,"sp":"122A","x":1.02,"y":0},
      {"panel":4,"sp":"124D","x":-0.02,"y":0},{"panel":4,"sp":"124D","x":0.08,"y":0},{"panel":4,"sp":"124D","x":0.92,"y":0},{"panel":4,"sp":"124D","x":0.96,"y":0},{"panel":4,"sp":"124D","x":0.9718,"y":1},{"panel":4,"sp":"124D","x":0.9784,"y":6},{"panel":4,"sp":"124D","x":0.9829,"y":11},{"panel":4,"sp":"124D","x":0.9862,"y":22},{"panel":4,"sp":"124D","x":0.9896,"y":46},{"panel":4,"sp":"124D","x":0.9929,"y":62},{"panel":4,"sp":"124D","x":0.9962,"y":83},{"panel":4,"sp":"124D","x":0.998,"y":75},{"panel":4,"sp":"124D","x":0.9996,"y":38},{"panel":4,"sp":"124D","x":1.0007,"y":6},{"panel":4,"sp":"124D","x":1.0018,"y":0},{"panel":4,"sp":"124D","x":1.02,"y":0},
      {"panel":4,"sp":"Re(CO)₃","x":-0.02,"y":0},{"panel":4,"sp":"Re(CO)₃","x":0.004,"y":0},{"panel":4,"sp":"Re(CO)₃","x":0.0075,"y":4},{"panel":4,"sp":"Re(CO)₃","x":0.012,"y":15},{"panel":4,"sp":"Re(CO)₃","x":0.0165,"y":38},{"panel":4,"sp":"Re(CO)₃","x":0.021,"y":53},{"panel":4,"sp":"Re(CO)₃","x":0.0244,"y":48},{"panel":4,"sp":"Re(CO)₃","x":0.029,"y":31},{"panel":4,"sp":"Re(CO)₃","x":0.0335,"y":18},{"panel":4,"sp":"Re(CO)₃","x":0.038,"y":7},{"panel":4,"sp":"Re(CO)₃","x":0.0426,"y":2.4},{"panel":4,"sp":"Re(CO)₃","x":0.05,"y":0.5},{"panel":4,"sp":"Re(CO)₃","x":0.056,"y":0},{"panel":4,"sp":"Re(CO)₃","x":0.08,"y":0},{"panel":4,"sp":"Re(CO)₃","x":0.92,"y":0},{"panel":4,"sp":"Re(CO)₃","x":1.02,"y":0},
      {"panel":4,"sp":"dmpA","x":-0.02,"y":0},{"panel":4,"sp":"dmpA","x":0.08,"y":0},{"panel":4,"sp":"dmpA","x":0.92,"y":0},{"panel":4,"sp":"dmpA","x":0.94,"y":0},{"panel":4,"sp":"dmpA","x":0.9496,"y":4},{"panel":4,"sp":"dmpA","x":0.9562,"y":14},{"panel":4,"sp":"dmpA","x":0.9618,"y":26},{"panel":4,"sp":"dmpA","x":0.9662,"y":38},{"panel":4,"sp":"dmpA","x":0.9707,"y":46},{"panel":4,"sp":"dmpA","x":0.974,"y":42},{"panel":4,"sp":"dmpA","x":0.9773,"y":38},{"panel":4,"sp":"dmpA","x":0.9818,"y":22},{"panel":4,"sp":"dmpA","x":0.9862,"y":10},{"panel":4,"sp":"dmpA","x":0.9907,"y":3},{"panel":4,"sp":"dmpA","x":0.994,"y":0.5},{"panel":4,"sp":"dmpA","x":0.998,"y":0},{"panel":4,"sp":"dmpA","x":1.02,"y":0}
    ]
  },
  "concat": [
    {
      "width": 307, "height": 61.75,
      "data": {"name": "charge"},
      "transform": [{"filter": "datum.panel == 1"}],
      "resolve": {"axis": {"x": "independent", "y": "independent"}},
      "layer": [
        {"mark": {"type": "line", "clip": true, "interpolate": "monotone", "strokeWidth": 1.9},
         "encoding": {
           "x": {"field": "x", "type": "quantitative", "scale": {"domain": [-0.6, 1.1], "nice": false, "zero": false},
                 "axis": {"orient": "bottom", "values": [-0.5, 0, 0.5, 1], "tickSize": -6, "labels": false, "title": null}},
           "y": {"field": "y", "type": "quantitative", "scale": {"domain": [0, 20], "nice": false},
                 "axis": {"orient": "left", "values": [5, 10, 15, 20], "tickSize": -6, "labelPadding": 13, "labelExpr": "format(datum.value, '')", "title": null}},
           "color": {"field": "sp", "type": "nominal",
                     "scale": {"domain": ["124A", "122D", "122A", "124D", "Re(CO)₃", "dmpA"], "range": ["#000000", "#ff0000", "#00ff00", "#0000ff", "#ffa500", "#9400d3"]},
                     "legend": {"values": ["124A", "122D", "122A"], "orient": "none", "legendX": 157, "legendY": 10, "rowPadding": -2.5, "title": null}}
         }},
        {"data": {"values": []}, "mark": "point",
         "encoding": {
           "x": {"field": "x", "type": "quantitative", "axis": {"orient": "bottom", "values": [-0.5, -0.4, -0.3, -0.2, -0.1, 0, 0.1, 0.2, 0.3, 0.4, 0.5, 0.6, 0.7, 0.8, 0.9, 1], "tickSize": -3, "labels": false, "title": null}},
           "y": {"field": "y", "type": "quantitative", "axis": {"orient": "left", "values": [2.5, 7.5, 12.5, 17.5], "tickSize": -3, "labels": false, "title": null}}
         }},
        {"data": {"values": []}, "mark": "point",
         "encoding": {
           "x": {"field": "x", "type": "quantitative", "axis": {"orient": "top", "values": [-0.5, 0, 0.5, 1], "tickSize": -6, "labels": false, "title": "124A˙⁺", "titleX": 7, "titleY": 23, "titleAlign": "left", "titleBaseline": "alphabetic", "titleAngle": 0, "titleFontSize": 15}},
           "y": {"field": "y", "type": "quantitative", "axis": {"orient": "right", "values": [5, 10, 15], "tickSize": -6, "labels": false, "title": null}}
         }},
        {"data": {"values": []}, "mark": "point",
         "encoding": {
           "x": {"field": "x", "type": "quantitative", "axis": {"orient": "top", "values": [-0.5, -0.4, -0.3, -0.2, -0.1, 0, 0.1, 0.2, 0.3, 0.4, 0.5, 0.6, 0.7, 0.8, 0.9, 1], "tickSize": -3, "labels": false, "title": null}},
           "y": {"field": "y", "type": "quantitative", "axis": {"orient": "right", "values": [2.5, 7.5, 12.5, 17.5], "tickSize": -3, "labels": false, "title": null}}
         }}
      ]
    },
    {"width": 25, "height": 61.75, "view": {"stroke": null}, "data": {"values": []}, "mark": "point", "encoding": {}},
    {
      "width": 147, "height": 61.75,
      "data": {"name": "spin"},
      "transform": [{"filter": "datum.panel == 1 && datum.x < 0.5"}],
      "resolve": {"axis": {"x": "independent", "y": "independent"}},
      "layer": [
        {"mark": {"type": "line", "clip": true, "interpolate": "monotone", "strokeWidth": 1.9},
         "encoding": {
           "x": {"field": "x", "type": "quantitative", "scale": {"domain": [-0.02, 0.08], "nice": false, "zero": false},
                 "axis": {"orient": "bottom", "values": [0, 0.05], "tickSize": -6, "labels": false, "title": null}},
           "y": {"field": "y", "type": "quantitative", "scale": {"domain": [0, 150], "nice": false},
                 "axis": {"orient": "left", "values": [50, 100, 150], "tickSize": -6, "labelPadding": 8, "labelExpr": "format(datum.value, '')", "title": null}},
           "color": {"field": "sp", "type": "nominal",
                     "scale": {"domain": ["124A", "122D", "122A", "124D", "Re(CO)₃", "dmpA"], "range": ["#000000", "#ff0000", "#00ff00", "#0000ff", "#ffa500", "#9400d3"]},
                     "legend": null}
         }},
        {"data": {"values": []}, "mark": "point",
         "encoding": {
           "x": {"field": "x", "type": "quantitative", "axis": {"orient": "bottom", "values": [-0.01, 0, 0.01, 0.02, 0.03, 0.04, 0.05, 0.06, 0.07], "tickSize": -3, "labels": false, "title": null}},
           "y": {"field": "y", "type": "quantitative", "axis": {"orient": "left", "values": [25, 75, 125], "tickSize": -3, "labels": false, "title": null}}
         }},
        {"data": {"values": []}, "mark": "point",
         "encoding": {
           "x": {"field": "x", "type": "quantitative", "axis": {"orient": "top", "values": [0, 0.05], "tickSize": -6, "labels": false, "title": null}},
           "y": {"field": "y", "type": "quantitative", "axis": {"orient": "right", "values": [50, 100], "tickSize": -6, "labels": false, "title": null}}
         }},
        {"data": {"values": []}, "mark": "point",
         "encoding": {
           "x": {"field": "x", "type": "quantitative", "axis": {"orient": "top", "values": [-0.01, 0, 0.01, 0.02, 0.03, 0.04, 0.05, 0.06, 0.07], "tickSize": -3, "labels": false, "title": null}},
           "y": {"field": "y", "type": "quantitative", "axis": {"orient": "right", "values": [25, 75, 125], "tickSize": -3, "labels": false, "title": null}}
         }}
      ]
    },
    {
      "width": 147, "height": 61.75,
      "data": {"name": "spin"},
      "transform": [{"filter": "datum.panel == 1 && datum.x > 0.5"}],
      "resolve": {"axis": {"x": "independent", "y": "independent"}},
      "layer": [
        {"mark": {"type": "line", "clip": true, "interpolate": "monotone", "strokeWidth": 1.9},
         "encoding": {
           "x": {"field": "x", "type": "quantitative", "scale": {"domain": [0.92, 1.02], "nice": false, "zero": false},
                 "axis": {"orient": "bottom", "values": [0.95, 1], "tickSize": -6, "labels": false, "title": null}},
           "y": {"field": "y", "type": "quantitative", "scale": {"domain": [0, 150], "nice": false},
                 "axis": {"orient": "left", "values": [50, 100], "tickSize": -6, "labels": false, "title": null}},
           "color": {"field": "sp", "type": "nominal",
                     "scale": {"domain": ["124A", "122D", "122A", "124D", "Re(CO)₃", "dmpA"], "range": ["#000000", "#ff0000", "#00ff00", "#0000ff", "#ffa500", "#9400d3"]},
                     "legend": null}
         }},
        {"data": {"values": []}, "mark": "point",
         "encoding": {
           "x": {"field": "x", "type": "quantitative", "axis": {"orient": "bottom", "values": [0.93, 0.94, 0.95, 0.96, 0.97, 0.98, 0.99, 1, 1.01], "tickSize": -3, "labels": false, "title": null}},
           "y": {"field": "y", "type": "quantitative", "axis": {"orient": "left", "values": [25, 75, 125], "tickSize": -3, "labels": false, "title": null}}
         }},
        {"data": {"values": []}, "mark": "point",
         "encoding": {
           "x": {"field": "x", "type": "quantitative", "axis": {"orient": "top", "values": [0.95, 1], "tickSize": -6, "labels": false, "title": null}},
           "y": {"field": "y", "type": "quantitative", "axis": {"orient": "right", "values": [50, 100], "tickSize": -6, "labels": false, "title": null}}
         }},
        {"data": {"values": []}, "mark": "point",
         "encoding": {
           "x": {"field": "x", "type": "quantitative", "axis": {"orient": "top", "values": [0.93, 0.94, 0.95, 0.96, 0.97, 0.98, 0.99, 1, 1.01], "tickSize": -3, "labels": false, "title": null}},
           "y": {"field": "y", "type": "quantitative", "axis": {"orient": "right", "values": [25, 75, 125], "tickSize": -3, "labels": false, "title": null}}
         }}
      ]
    },

    {
      "width": 307, "height": 61.75,
      "data": {"name": "charge"},
      "transform": [{"filter": "datum.panel == 2"}],
      "resolve": {"axis": {"x": "independent", "y": "independent"}},
      "layer": [
        {"mark": {"type": "line", "clip": true, "interpolate": "monotone", "strokeWidth": 1.9},
         "encoding": {
           "x": {"field": "x", "type": "quantitative", "scale": {"domain": [-0.6, 1.1], "nice": false, "zero": false},
                 "axis": {"orient": "bottom", "values": [-0.5, 0, 0.5, 1], "tickSize": -6, "labels": false, "title": null}},
           "y": {"field": "y", "type": "quantitative", "scale": {"domain": [0, 20], "nice": false},
                 "axis": {"orient": "left", "values": [5, 10, 15, 20], "tickSize": -6, "labelPadding": 13, "labelExpr": "format(datum.value, '')",
                          "title": "Probability Density", "titleX": -32, "titleY": 61.75, "titleAlign": "center", "titleBaseline": "alphabetic"}},
           "color": {"field": "sp", "type": "nominal",
                     "scale": {"domain": ["124A", "122D", "122A", "124D", "Re(CO)₃", "dmpA"], "range": ["#000000", "#ff0000", "#00ff00", "#0000ff", "#ffa500", "#9400d3"]},
                     "legend": {"values": ["124D", "Re(CO)₃", "dmpA"], "orient": "none", "legendX": 157, "legendY": 6, "rowPadding": 0, "title": null}}
         }},
        {"data": {"values": []}, "mark": "point",
         "encoding": {
           "x": {"field": "x", "type": "quantitative", "axis": {"orient": "bottom", "values": [-0.5, -0.4, -0.3, -0.2, -0.1, 0, 0.1, 0.2, 0.3, 0.4, 0.5, 0.6, 0.7, 0.8, 0.9, 1], "tickSize": -3, "labels": false, "title": null}},
           "y": {"field": "y", "type": "quantitative", "axis": {"orient": "left", "values": [2.5, 7.5, 12.5, 17.5], "tickSize": -3, "labels": false, "title": null}}
         }},
        {"data": {"values": []}, "mark": "point",
         "encoding": {
           "x": {"field": "x", "type": "quantitative", "axis": {"orient": "top", "values": [-0.5, 0, 0.5, 1], "tickSize": -6, "labels": false, "title": "122D˙⁺", "titleX": 7, "titleY": 23, "titleAlign": "left", "titleBaseline": "alphabetic", "titleAngle": 0, "titleFontSize": 15}},
           "y": {"field": "y", "type": "quantitative", "axis": {"orient": "right", "values": [5, 10, 15], "tickSize": -6, "labels": false, "title": null}}
         }},
        {"data": {"values": []}, "mark": "point",
         "encoding": {
           "x": {"field": "x", "type": "quantitative", "axis": {"orient": "top", "values": [-0.5, -0.4, -0.3, -0.2, -0.1, 0, 0.1, 0.2, 0.3, 0.4, 0.5, 0.6, 0.7, 0.8, 0.9, 1], "tickSize": -3, "labels": false, "title": null}},
           "y": {"field": "y", "type": "quantitative", "axis": {"orient": "right", "values": [2.5, 7.5, 12.5, 17.5], "tickSize": -3, "labels": false, "title": null}}
         }}
      ]
    },
    {"width": 25, "height": 61.75, "view": {"stroke": null}, "data": {"values": []}, "mark": "point", "encoding": {}},
    {
      "width": 147, "height": 61.75,
      "data": {"name": "spin"},
      "transform": [{"filter": "datum.panel == 2 && datum.x < 0.5"}],
      "resolve": {"axis": {"x": "independent", "y": "independent"}},
      "layer": [
        {"mark": {"type": "line", "clip": true, "interpolate": "monotone", "strokeWidth": 1.9},
         "encoding": {
           "x": {"field": "x", "type": "quantitative", "scale": {"domain": [-0.02, 0.08], "nice": false, "zero": false},
                 "axis": {"orient": "bottom", "values": [0, 0.05], "tickSize": -6, "labels": false, "title": null}},
           "y": {"field": "y", "type": "quantitative", "scale": {"domain": [0, 150], "nice": false},
                 "axis": {"orient": "left", "values": [50, 100], "tickSize": -6, "labelPadding": 8, "labelExpr": "format(datum.value, '')",
                          "title": "Probability Density", "titleX": -25, "titleY": 61.75, "titleAlign": "center", "titleBaseline": "alphabetic"}},
           "color": {"field": "sp", "type": "nominal",
                     "scale": {"domain": ["124A", "122D", "122A", "124D", "Re(CO)₃", "dmpA"], "range": ["#000000", "#ff0000", "#00ff00", "#0000ff", "#ffa500", "#9400d3"]},
                     "legend": null}
         }},
        {"data": {"values": []}, "mark": "point",
         "encoding": {
           "x": {"field": "x", "type": "quantitative", "axis": {"orient": "bottom", "values": [-0.01, 0, 0.01, 0.02, 0.03, 0.04, 0.05, 0.06, 0.07], "tickSize": -3, "labels": false, "title": null}},
           "y": {"field": "y", "type": "quantitative", "axis": {"orient": "left", "values": [25, 75, 125], "tickSize": -3, "labels": false, "title": null}}
         }},
        {"data": {"values": []}, "mark": "point",
         "encoding": {
           "x": {"field": "x", "type": "quantitative", "axis": {"orient": "top", "values": [0, 0.05], "tickSize": -6, "labels": false, "title": null}},
           "y": {"field": "y", "type": "quantitative", "axis": {"orient": "right", "values": [50, 100], "tickSize": -6, "labels": false, "title": null}}
         }},
        {"data": {"values": []}, "mark": "point",
         "encoding": {
           "x": {"field": "x", "type": "quantitative", "axis": {"orient": "top", "values": [-0.01, 0, 0.01, 0.02, 0.03, 0.04, 0.05, 0.06, 0.07], "tickSize": -3, "labels": false, "title": null}},
           "y": {"field": "y", "type": "quantitative", "axis": {"orient": "right", "values": [25, 75, 125], "tickSize": -3, "labels": false, "title": null}}
         }}
      ]
    },
    {
      "width": 147, "height": 61.75,
      "data": {"name": "spin"},
      "transform": [{"filter": "datum.panel == 2 && datum.x > 0.5"}],
      "resolve": {"axis": {"x": "independent", "y": "independent"}},
      "layer": [
        {"mark": {"type": "line", "clip": true, "interpolate": "monotone", "strokeWidth": 1.9},
         "encoding": {
           "x": {"field": "x", "type": "quantitative", "scale": {"domain": [0.92, 1.02], "nice": false, "zero": false},
                 "axis": {"orient": "bottom", "values": [0.95, 1], "tickSize": -6, "labels": false, "title": null}},
           "y": {"field": "y", "type": "quantitative", "scale": {"domain": [0, 150], "nice": false},
                 "axis": {"orient": "left", "values": [50, 100], "tickSize": -6, "labels": false, "title": null}},
           "color": {"field": "sp", "type": "nominal",
                     "scale": {"domain": ["124A", "122D", "122A", "124D", "Re(CO)₃", "dmpA"], "range": ["#000000", "#ff0000", "#00ff00", "#0000ff", "#ffa500", "#9400d3"]},
                     "legend": null}
         }},
        {"data": {"values": []}, "mark": "point",
         "encoding": {
           "x": {"field": "x", "type": "quantitative", "axis": {"orient": "bottom", "values": [0.93, 0.94, 0.95, 0.96, 0.97, 0.98, 0.99, 1, 1.01], "tickSize": -3, "labels": false, "title": null}},
           "y": {"field": "y", "type": "quantitative", "axis": {"orient": "left", "values": [25, 75, 125], "tickSize": -3, "labels": false, "title": null}}
         }},
        {"data": {"values": []}, "mark": "point",
         "encoding": {
           "x": {"field": "x", "type": "quantitative", "axis": {"orient": "top", "values": [0.95, 1], "tickSize": -6, "labels": false, "title": null}},
           "y": {"field": "y", "type": "quantitative", "axis": {"orient": "right", "values": [50, 100], "tickSize": -6, "labels": false, "title": null}}
         }},
        {"data": {"values": []}, "mark": "point",
         "encoding": {
           "x": {"field": "x", "type": "quantitative", "axis": {"orient": "top", "values": [0.93, 0.94, 0.95, 0.96, 0.97, 0.98, 0.99, 1, 1.01], "tickSize": -3, "labels": false, "title": null}},
           "y": {"field": "y", "type": "quantitative", "axis": {"orient": "right", "values": [25, 75, 125], "tickSize": -3, "labels": false, "title": null}}
         }}
      ]
    },

    {
      "width": 307, "height": 61.75,
      "data": {"name": "charge"},
      "transform": [{"filter": "datum.panel == 3"}],
      "resolve": {"axis": {"x": "independent", "y": "independent"}},
      "layer": [
        {"mark": {"type": "line", "clip": true, "interpolate": "monotone", "strokeWidth": 1.9},
         "encoding": {
           "x": {"field": "x", "type": "quantitative", "scale": {"domain": [-0.6, 1.1], "nice": false, "zero": false},
                 "axis": {"orient": "bottom", "values": [-0.5, 0, 0.5, 1], "tickSize": -6, "labels": false, "title": null}},
           "y": {"field": "y", "type": "quantitative", "scale": {"domain": [0, 20], "nice": false},
                 "axis": {"orient": "left", "values": [5, 10, 15, 20], "tickSize": -6, "labelPadding": 13, "labelExpr": "format(datum.value, '')", "title": null}},
           "color": {"field": "sp", "type": "nominal",
                     "scale": {"domain": ["124A", "122D", "122A", "124D", "Re(CO)₃", "dmpA"], "range": ["#000000", "#ff0000", "#00ff00", "#0000ff", "#ffa500", "#9400d3"]},
                     "legend": null}
         }},
        {"data": {"values": []}, "mark": "point",
         "encoding": {
           "x": {"field": "x", "type": "quantitative", "axis": {"orient": "bottom", "values": [-0.5, -0.4, -0.3, -0.2, -0.1, 0, 0.1, 0.2, 0.3, 0.4, 0.5, 0.6, 0.7, 0.8, 0.9, 1], "tickSize": -3, "labels": false, "title": null}},
           "y": {"field": "y", "type": "quantitative", "axis": {"orient": "left", "values": [2.5, 7.5, 12.5, 17.5], "tickSize": -3, "labels": false, "title": null}}
         }},
        {"data": {"values": []}, "mark": "point",
         "encoding": {
           "x": {"field": "x", "type": "quantitative", "axis": {"orient": "top", "values": [-0.5, 0, 0.5, 1], "tickSize": -6, "labels": false, "title": "122A˙⁺", "titleX": 7, "titleY": 23, "titleAlign": "left", "titleBaseline": "alphabetic", "titleAngle": 0, "titleFontSize": 15}},
           "y": {"field": "y", "type": "quantitative", "axis": {"orient": "right", "values": [5, 10, 15], "tickSize": -6, "labels": false, "title": null}}
         }},
        {"data": {"values": []}, "mark": "point",
         "encoding": {
           "x": {"field": "x", "type": "quantitative", "axis": {"orient": "top", "values": [-0.5, -0.4, -0.3, -0.2, -0.1, 0, 0.1, 0.2, 0.3, 0.4, 0.5, 0.6, 0.7, 0.8, 0.9, 1], "tickSize": -3, "labels": false, "title": null}},
           "y": {"field": "y", "type": "quantitative", "axis": {"orient": "right", "values": [2.5, 7.5, 12.5, 17.5], "tickSize": -3, "labels": false, "title": null}}
         }}
      ]
    },
    {"width": 25, "height": 61.75, "view": {"stroke": null}, "data": {"values": []}, "mark": "point", "encoding": {}},
    {
      "width": 147, "height": 61.75,
      "data": {"name": "spin"},
      "transform": [{"filter": "datum.panel == 3 && datum.x < 0.5"}],
      "resolve": {"axis": {"x": "independent", "y": "independent"}},
      "layer": [
        {"mark": {"type": "line", "clip": true, "interpolate": "monotone", "strokeWidth": 1.9},
         "encoding": {
           "x": {"field": "x", "type": "quantitative", "scale": {"domain": [-0.02, 0.08], "nice": false, "zero": false},
                 "axis": {"orient": "bottom", "values": [0, 0.05], "tickSize": -6, "labels": false, "title": null}},
           "y": {"field": "y", "type": "quantitative", "scale": {"domain": [0, 150], "nice": false},
                 "axis": {"orient": "left", "values": [50, 100], "tickSize": -6, "labelPadding": 8, "labelExpr": "format(datum.value, '')", "title": null}},
           "color": {"field": "sp", "type": "nominal",
                     "scale": {"domain": ["124A", "122D", "122A", "124D", "Re(CO)₃", "dmpA"], "range": ["#000000", "#ff0000", "#00ff00", "#0000ff", "#ffa500", "#9400d3"]},
                     "legend": null}
         }},
        {"data": {"values": []}, "mark": "point",
         "encoding": {
           "x": {"field": "x", "type": "quantitative", "axis": {"orient": "bottom", "values": [-0.01, 0, 0.01, 0.02, 0.03, 0.04, 0.05, 0.06, 0.07], "tickSize": -3, "labels": false, "title": null}},
           "y": {"field": "y", "type": "quantitative", "axis": {"orient": "left", "values": [25, 75, 125], "tickSize": -3, "labels": false, "title": null}}
         }},
        {"data": {"values": []}, "mark": "point",
         "encoding": {
           "x": {"field": "x", "type": "quantitative", "axis": {"orient": "top", "values": [0, 0.05], "tickSize": -6, "labels": false, "title": null}},
           "y": {"field": "y", "type": "quantitative", "axis": {"orient": "right", "values": [50, 100], "tickSize": -6, "labels": false, "title": null}}
         }},
        {"data": {"values": []}, "mark": "point",
         "encoding": {
           "x": {"field": "x", "type": "quantitative", "axis": {"orient": "top", "values": [-0.01, 0, 0.01, 0.02, 0.03, 0.04, 0.05, 0.06, 0.07], "tickSize": -3, "labels": false, "title": null}},
           "y": {"field": "y", "type": "quantitative", "axis": {"orient": "right", "values": [25, 75, 125], "tickSize": -3, "labels": false, "title": null}}
         }}
      ]
    },
    {
      "width": 147, "height": 61.75,
      "data": {"name": "spin"},
      "transform": [{"filter": "datum.panel == 3 && datum.x > 0.5"}],
      "resolve": {"axis": {"x": "independent", "y": "independent"}},
      "layer": [
        {"mark": {"type": "line", "clip": true, "interpolate": "monotone", "strokeWidth": 1.9},
         "encoding": {
           "x": {"field": "x", "type": "quantitative", "scale": {"domain": [0.92, 1.02], "nice": false, "zero": false},
                 "axis": {"orient": "bottom", "values": [0.95, 1], "tickSize": -6, "labels": false, "title": null}},
           "y": {"field": "y", "type": "quantitative", "scale": {"domain": [0, 150], "nice": false},
                 "axis": {"orient": "left", "values": [50, 100], "tickSize": -6, "labels": false, "title": null}},
           "color": {"field": "sp", "type": "nominal",
                     "scale": {"domain": ["124A", "122D", "122A", "124D", "Re(CO)₃", "dmpA"], "range": ["#000000", "#ff0000", "#00ff00", "#0000ff", "#ffa500", "#9400d3"]},
                     "legend": null}
         }},
        {"data": {"values": []}, "mark": "point",
         "encoding": {
           "x": {"field": "x", "type": "quantitative", "axis": {"orient": "bottom", "values": [0.93, 0.94, 0.95, 0.96, 0.97, 0.98, 0.99, 1, 1.01], "tickSize": -3, "labels": false, "title": null}},
           "y": {"field": "y", "type": "quantitative", "axis": {"orient": "left", "values": [25, 75, 125], "tickSize": -3, "labels": false, "title": null}}
         }},
        {"data": {"values": []}, "mark": "point",
         "encoding": {
           "x": {"field": "x", "type": "quantitative", "axis": {"orient": "top", "values": [0.95, 1], "tickSize": -6, "labels": false, "title": null}},
           "y": {"field": "y", "type": "quantitative", "axis": {"orient": "right", "values": [50, 100], "tickSize": -6, "labels": false, "title": null}}
         }},
        {"data": {"values": []}, "mark": "point",
         "encoding": {
           "x": {"field": "x", "type": "quantitative", "axis": {"orient": "top", "values": [0.93, 0.94, 0.95, 0.96, 0.97, 0.98, 0.99, 1, 1.01], "tickSize": -3, "labels": false, "title": null}},
           "y": {"field": "y", "type": "quantitative", "axis": {"orient": "right", "values": [25, 75, 125], "tickSize": -3, "labels": false, "title": null}}
         }}
      ]
    },

    {
      "width": 307, "height": 61.75,
      "data": {"name": "charge"},
      "transform": [{"filter": "datum.panel == 4"}],
      "resolve": {"axis": {"x": "independent", "y": "independent"}},
      "layer": [
        {"mark": {"type": "line", "clip": true, "interpolate": "monotone", "strokeWidth": 1.9},
         "encoding": {
           "x": {"field": "x", "type": "quantitative", "scale": {"domain": [-0.6, 1.1], "nice": false, "zero": false},
                 "axis": {"orient": "bottom", "values": [-0.5, 0, 0.5, 1], "tickSize": -6, "labelPadding": 8,
                          "labelExpr": "datum.value < 0 ? '-' + format(-datum.value, '') : format(datum.value, '')",
                          "title": "Charge", "titleX": 153.5, "titleY": 27, "titleAlign": "center", "titleBaseline": "alphabetic"}},
           "y": {"field": "y", "type": "quantitative", "scale": {"domain": [0, 20], "nice": false},
                 "axis": {"orient": "left", "values": [0, 5, 10, 15, 20], "tickSize": -6, "labelPadding": 13, "labelExpr": "format(datum.value, '')", "title": null}},
           "color": {"field": "sp", "type": "nominal",
                     "scale": {"domain": ["124A", "122D", "122A", "124D", "Re(CO)₃", "dmpA"], "range": ["#000000", "#ff0000", "#00ff00", "#0000ff", "#ffa500", "#9400d3"]},
                     "legend": null}
         }},
        {"data": {"values": []}, "mark": "point",
         "encoding": {
           "x": {"field": "x", "type": "quantitative", "axis": {"orient": "bottom", "values": [-0.5, -0.4, -0.3, -0.2, -0.1, 0, 0.1, 0.2, 0.3, 0.4, 0.5, 0.6, 0.7, 0.8, 0.9, 1], "tickSize": -3, "labels": false, "title": null}},
           "y": {"field": "y", "type": "quantitative", "axis": {"orient": "left", "values": [2.5, 7.5, 12.5, 17.5], "tickSize": -3, "labels": false, "title": null}}
         }},
        {"data": {"values": []}, "mark": "point",
         "encoding": {
           "x": {"field": "x", "type": "quantitative", "axis": {"orient": "top", "values": [-0.5, 0, 0.5, 1], "tickSize": -6, "labels": false, "title": "124D˙⁺", "titleX": 7, "titleY": 23, "titleAlign": "left", "titleBaseline": "alphabetic", "titleAngle": 0, "titleFontSize": 15}},
           "y": {"field": "y", "type": "quantitative", "axis": {"orient": "right", "values": [5, 10, 15], "tickSize": -6, "labels": false, "title": null}}
         }},
        {"data": {"values": []}, "mark": "point",
         "encoding": {
           "x": {"field": "x", "type": "quantitative", "axis": {"orient": "top", "values": [-0.5, -0.4, -0.3, -0.2, -0.1, 0, 0.1, 0.2, 0.3, 0.4, 0.5, 0.6, 0.7, 0.8, 0.9, 1], "tickSize": -3, "labels": false, "title": null}},
           "y": {"field": "y", "type": "quantitative", "axis": {"orient": "right", "values": [2.5, 7.5, 12.5, 17.5], "tickSize": -3, "labels": false, "title": null}}
         }}
      ]
    },
    {"width": 25, "height": 61.75, "view": {"stroke": null}, "data": {"values": []}, "mark": "point", "encoding": {}},
    {
      "width": 147, "height": 61.75,
      "data": {"name": "spin"},
      "transform": [{"filter": "datum.panel == 4 && datum.x < 0.5"}],
      "resolve": {"axis": {"x": "independent", "y": "independent"}},
      "layer": [
        {"mark": {"type": "line", "clip": true, "interpolate": "monotone", "strokeWidth": 1.9},
         "encoding": {
           "x": {"field": "x", "type": "quantitative", "scale": {"domain": [-0.02, 0.08], "nice": false, "zero": false},
                 "axis": {"orient": "bottom", "values": [0, 0.05], "tickSize": -6, "labelPadding": 8,
                          "labelExpr": "datum.value < 0 ? '-' + format(-datum.value, '') : format(datum.value, '')",
                          "title": "Spin", "titleX": 152, "titleY": 27, "titleAlign": "center", "titleBaseline": "alphabetic"}},
           "y": {"field": "y", "type": "quantitative", "scale": {"domain": [0, 150], "nice": false},
                 "axis": {"orient": "left", "values": [0, 50, 100], "tickSize": -6, "labelPadding": 8, "labelExpr": "format(datum.value, '')", "title": null}},
           "color": {"field": "sp", "type": "nominal",
                     "scale": {"domain": ["124A", "122D", "122A", "124D", "Re(CO)₃", "dmpA"], "range": ["#000000", "#ff0000", "#00ff00", "#0000ff", "#ffa500", "#9400d3"]},
                     "legend": null}
         }},
        {"data": {"values": []}, "mark": "point",
         "encoding": {
           "x": {"field": "x", "type": "quantitative", "axis": {"orient": "bottom", "values": [-0.01, 0, 0.01, 0.02, 0.03, 0.04, 0.05, 0.06, 0.07], "tickSize": -3, "labels": false, "title": null}},
           "y": {"field": "y", "type": "quantitative", "axis": {"orient": "left", "values": [25, 75, 125], "tickSize": -3, "labels": false, "title": null}}
         }},
        {"data": {"values": []}, "mark": "point",
         "encoding": {
           "x": {"field": "x", "type": "quantitative", "axis": {"orient": "top", "values": [0, 0.05], "tickSize": -6, "labels": false, "title": null}},
           "y": {"field": "y", "type": "quantitative", "axis": {"orient": "right", "values": [50, 100], "tickSize": -6, "labels": false, "title": null}}
         }},
        {"data": {"values": []}, "mark": "point",
         "encoding": {
           "x": {"field": "x", "type": "quantitative", "axis": {"orient": "top", "values": [-0.01, 0, 0.01, 0.02, 0.03, 0.04, 0.05, 0.06, 0.07], "tickSize": -3, "labels": false, "title": null}},
           "y": {"field": "y", "type": "quantitative", "axis": {"orient": "right", "values": [25, 75, 125], "tickSize": -3, "labels": false, "title": null}}
         }}
      ]
    },
    {
      "width": 147, "height": 61.75,
      "data": {"name": "spin"},
      "transform": [{"filter": "datum.panel == 4 && datum.x > 0.5"}],
      "resolve": {"axis": {"x": "independent", "y": "independent"}},
      "layer": [
        {"mark": {"type": "line", "clip": true, "interpolate": "monotone", "strokeWidth": 1.9},
         "encoding": {
           "x": {"field": "x", "type": "quantitative", "scale": {"domain": [0.92, 1.02], "nice": false, "zero": false},
                 "axis": {"orient": "bottom", "values": [0.95, 1], "tickSize": -6, "labelPadding": 8,
                          "labelExpr": "format(datum.value, '')", "title": null}},
           "y": {"field": "y", "type": "quantitative", "scale": {"domain": [0, 150], "nice": false},
                 "axis": {"orient": "left", "values": [50, 100], "tickSize": -6, "labels": false, "title": null}},
           "color": {"field": "sp", "type": "nominal",
                     "scale": {"domain": ["124A", "122D", "122A", "124D", "Re(CO)₃", "dmpA"], "range": ["#000000", "#ff0000", "#00ff00", "#0000ff", "#ffa500", "#9400d3"]},
                     "legend": null}
         }},
        {"data": {"values": []}, "mark": "point",
         "encoding": {
           "x": {"field": "x", "type": "quantitative", "axis": {"orient": "bottom", "values": [0.93, 0.94, 0.95, 0.96, 0.97, 0.98, 0.99, 1, 1.01], "tickSize": -3, "labels": false, "title": null}},
           "y": {"field": "y", "type": "quantitative", "axis": {"orient": "left", "values": [25, 75, 125], "tickSize": -3, "labels": false, "title": null}}
         }},
        {"data": {"values": []}, "mark": "point",
         "encoding": {
           "x": {"field": "x", "type": "quantitative", "axis": {"orient": "top", "values": [0.95, 1], "tickSize": -6, "labels": false, "title": null}},
           "y": {"field": "y", "type": "quantitative", "axis": {"orient": "right", "values": [50, 100], "tickSize": -6, "labels": false, "title": null}}
         }},
        {"data": {"values": []}, "mark": "point",
         "encoding": {
           "x": {"field": "x", "type": "quantitative", "axis": {"orient": "top", "values": [0.93, 0.94, 0.95, 0.96, 0.97, 0.98, 0.99, 1, 1.01], "tickSize": -3, "labels": false, "title": null}},
           "y": {"field": "y", "type": "quantitative", "axis": {"orient": "right", "values": [25, 75, 125], "tickSize": -3, "labels": false, "title": null}}
         }}
      ]
    }
  ],
  "config": {
    "font": "Liberation Serif",
    "background": "#ffffff",
    "view": {"stroke": "#444444", "strokeWidth": 1},
    "axis": {
      "domain": false, "grid": false,
      "tickColor": "#444444", "tickWidth": 1,
      "labelFont": "Liberation Serif", "labelFontSize": 12, "labelColor": "#000000",
      "titleFont": "Liberation Serif", "titleFontSize": 17, "titleFontWeight": "normal", "titleColor": "#000000"
    },
    "legend": {
      "labelFont": "Liberation Serif", "labelFontSize": 12, "labelColor": "#000000",
      "symbolType": "stroke", "symbolSize": 196, "symbolStrokeWidth": 2,
      "labelOffset": 6, "rowPadding": 0, "padding": 0
    }
  }
}
